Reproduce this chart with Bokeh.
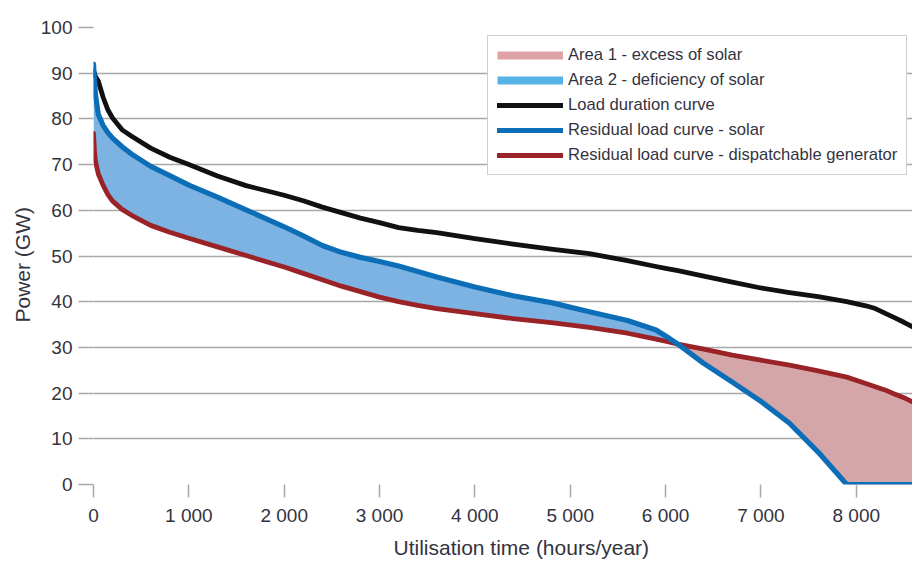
import numpy as np
from bokeh.plotting import figure
from bokeh.models import FixedTicker, Legend, LegendItem, Title
from bokeh.embed import file_html
from bokeh.resources import INLINE

# ---- data ----
hours = [0, 10, 20, 50, 100, 150, 200, 300, 400, 600, 800, 1000, 1300, 1600, 2000, 2200,
         2400, 2600, 2800, 3000, 3200, 3400, 3600, 4000, 4400, 4800, 5200, 5600, 5900, 6000,
         6130, 6400, 6700, 7000, 7300, 7600, 7900, 8100, 8200, 8300, 8400, 8500, 8600]
load_duration = [90.5, 90.0, 89.3, 88.3, 84.8, 82.0, 80.2, 77.6, 76.2, 73.6, 71.6, 70.0, 67.5,
                 65.4, 63.3, 62.1, 60.7, 59.5, 58.3, 57.3, 56.2, 55.6, 55.1, 53.8, 52.6, 51.5,
                 50.5, 49.0, 47.7, 47.3, 46.8, 45.6, 44.3, 43.0, 42.0, 41.1, 40.0, 39.1, 38.5,
                 37.5, 36.5, 35.5, 34.4]
residual_solar = [92.0, 88.5, 85.4, 81.0, 78.6, 77.0, 75.8, 73.9, 72.3, 69.6, 67.6, 65.5, 62.9,
                  60.1, 56.4, 54.4, 52.3, 50.8, 49.7, 48.8, 47.8, 46.6, 45.4, 43.2, 41.3, 39.8,
                  37.8, 35.9, 33.8, 32.5, 30.7, 26.5, 22.4, 18.2, 13.4, 7.1, 0.0, 0.0, 0.0,
                  0.0, 0.0, 0.0, 0.0]
residual_dispatchable = [76.8, 73.0, 70.8, 68.0, 65.5, 63.5, 62.0, 60.2, 58.9, 56.7, 55.2, 53.9,
                         52.0, 50.1, 47.6, 46.2, 44.8, 43.4, 42.2, 41.0, 40.0, 39.2, 38.5, 37.4,
                         36.3, 35.4, 34.4, 33.1, 31.8, 31.35, 30.7, 29.6, 28.3, 27.2, 26.1,
                         24.85, 23.5, 22.1, 21.4, 20.7, 19.8, 19.0, 18.0]

x_ticks = [0, 1000, 2000, 3000, 4000, 5000, 6000, 7000, 8000]
x_tick_labels = ["0", "1 000", "2 000", "3 000", "4 000", "5 000", "6 000", "7 000", "8 000"]
y_ticks = [0, 10, 20, 30, 40, 50, 60, 70, 80, 90, 100]
x_title = "Utilisation time (hours/year)"
y_title = "Power (GW)"
legend_labels = ["Area 1 - excess of solar", "Area 2 - deficiency of solar",
                 "Load duration curve", "Residual load curve - solar",
                 "Residual load curve - dispatchable generator"]

FONT = "Liberation Sans"
TXT = "#333340"
GRID = "#A8A8A8"

p = figure(width=912, height=566, output_backend="svg", toolbar_location=None,
           x_range=(0, 8590), y_range=(0, 100),
           min_border_left=93, min_border_right=0, min_border_top=27, min_border_bottom=82)
p.outline_line_color = None
p.background_fill_color = "white"

sol = np.array(residual_solar)
dis = np.array(residual_dispatchable)

# Area 2 - deficiency of solar (solar residual above dispatchable)
p.varea(x=hours, y1=dis, y2=np.maximum(sol, dis), fill_color="#7DB3E3", fill_alpha=1)
# Area 1 - excess of solar (dispatchable above solar residual)
p.varea(x=hours, y1=np.minimum(sol, dis), y2=dis, fill_color="#D4A6A7", fill_alpha=1)

r_load = p.line(hours, load_duration, line_color="#111111", line_width=4.8, line_cap="round", line_join="round")
r_dis = p.line(hours, residual_dispatchable, line_color="#9A2328", line_width=4.8, line_cap="round", line_join="round")
r_sol = p.line(hours, residual_solar, line_color="#0D6EB8", line_width=5.2, line_cap="round", line_join="round")

# legend-only swatches for the two areas
r_a1 = p.line(x=[np.nan], y=[np.nan], line_color="#DDA2A6", line_width=8, line_cap="butt")
r_a2 = p.line(x=[np.nan], y=[np.nan], line_color="#56B3E6", line_width=8, line_cap="butt")

# grids
p.xgrid.ticker = FixedTicker(ticks=[0])
p.xgrid.grid_line_color = GRID
p.xgrid.grid_line_width = 1.5
p.ygrid.ticker = FixedTicker(ticks=y_ticks)
p.ygrid.grid_line_color = GRID
p.ygrid.grid_line_width = 1.5

# axes
p.xaxis.ticker = FixedTicker(ticks=x_ticks)
p.xaxis.major_label_overrides = dict(zip(x_ticks, x_tick_labels))
p.yaxis.ticker = FixedTicker(ticks=y_ticks)
for ax in (p.xaxis, p.yaxis):
    ax.axis_line_color = None
    ax.major_tick_line_color = GRID
    ax.major_tick_line_width = 1.5
    ax.major_tick_in = 0
    ax.minor_tick_line_color = None
    ax.major_label_text_font = FONT
    ax.major_label_text_font_size = "19px"
    ax.major_label_text_color = TXT
p.xaxis.major_tick_out = 13
p.yaxis.major_tick_out = 15
p.xaxis.major_label_standoff = 7
p.yaxis.major_label_standoff = 6

# axis titles (as side titles so they can be offset like the original)
p.add_layout(Title(text=x_title, align="left", offset=300, standoff=10,
                   text_font=FONT, text_font_size="21px", text_font_style="normal",
                   text_color=TXT), "below")
p.add_layout(Title(text=y_title, align="left", offset=162, standoff=8,
                   text_font=FONT, text_font_size="21px", text_font_style="normal",
                   text_color=TXT), "left")

legend = Legend(items=[LegendItem(label=legend_labels[0], renderers=[r_a1]),
                       LegendItem(label=legend_labels[1], renderers=[r_a2]),
                       LegendItem(label=legend_labels[2], renderers=[r_load]),
                       LegendItem(label=legend_labels[3], renderers=[r_sol]),
                       LegendItem(label=legend_labels[4], renderers=[r_dis])],
                location=(394, 309), margin=0, padding=9, spacing=5,
                glyph_width=66, glyph_height=20, label_height=20, label_standoff=5,
                border_line_color="#A0A0A0", border_line_width=1.5,
                background_fill_color="white", background_fill_alpha=1,
                label_text_font=FONT, label_text_font_size="16.6px", label_text_color=TXT)
p.add_layout(legend)

open("out.html", "w").write(file_html(p, INLINE))
